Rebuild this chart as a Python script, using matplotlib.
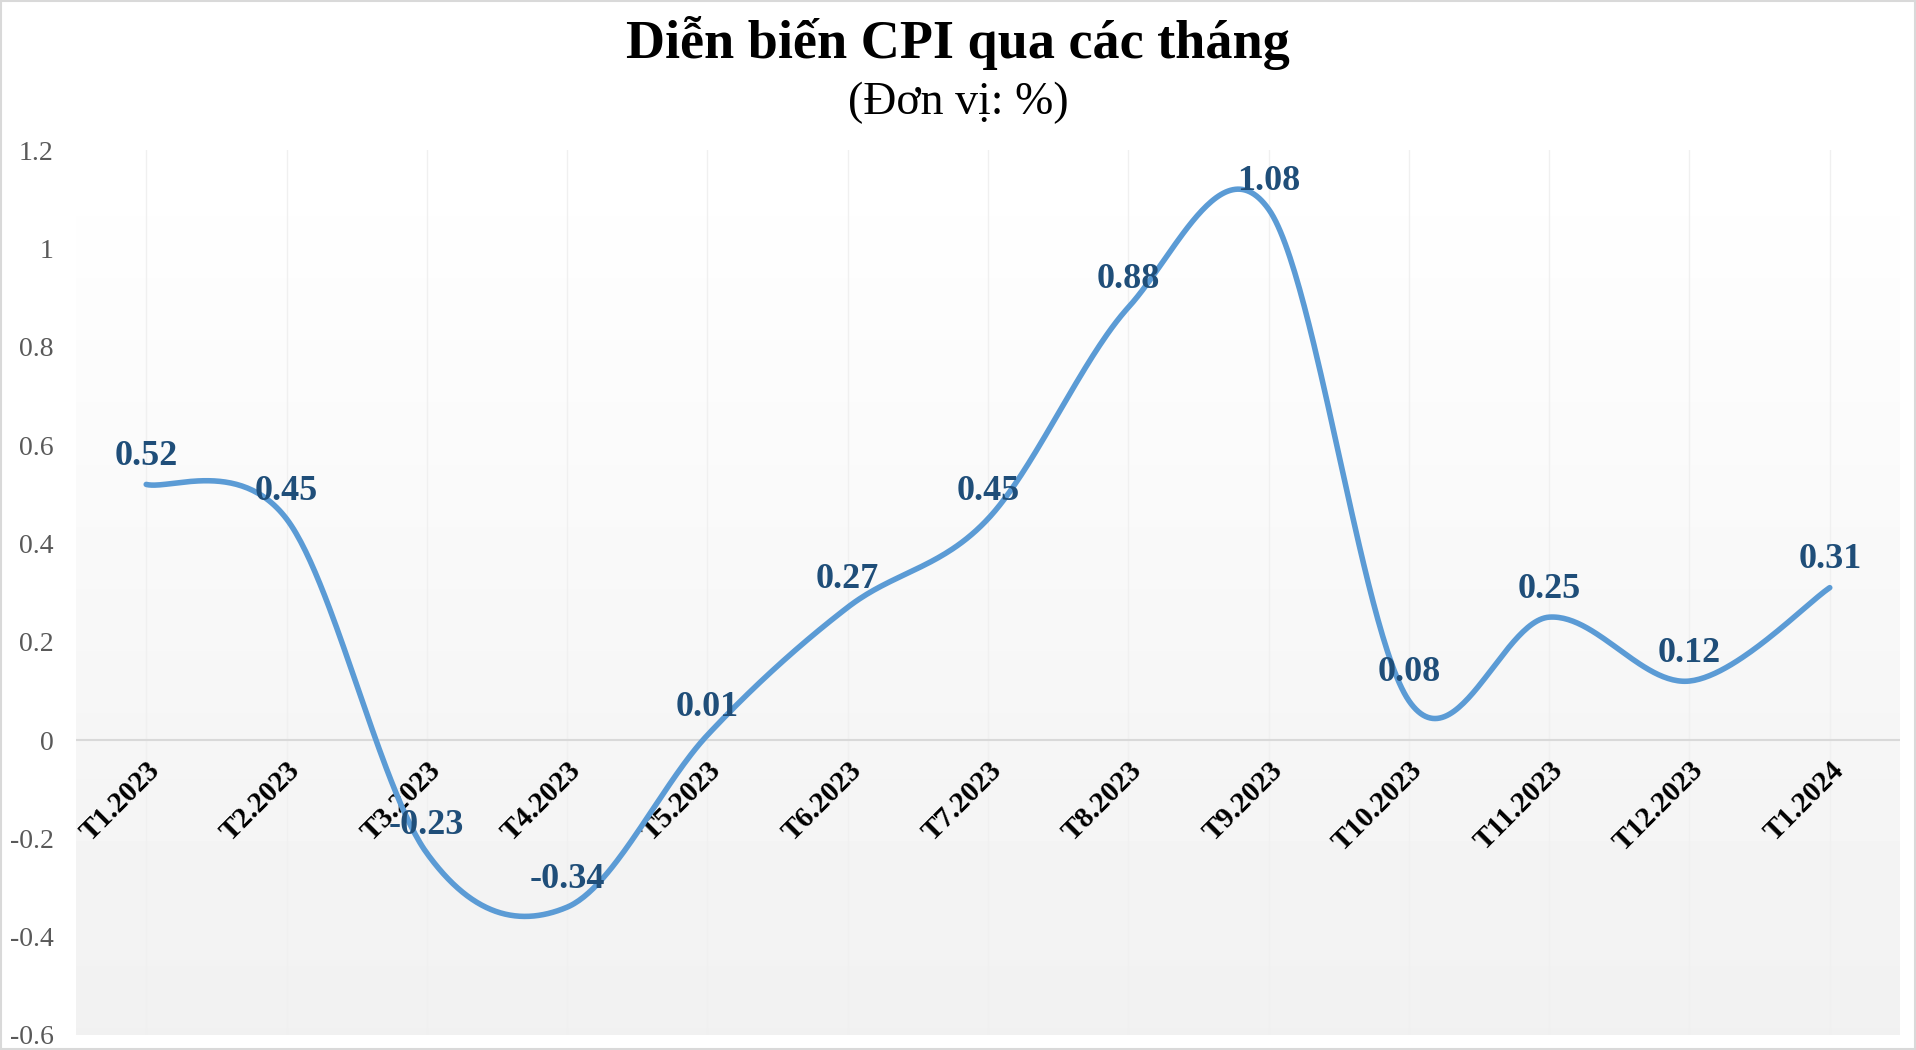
import matplotlib.pyplot as plt
import numpy as np
from matplotlib.patches import Rectangle

# du lieu CPI theo thang
months = ['T1.2023', 'T2.2023', 'T3.2023', 'T4.2023', 'T5.2023', 'T6.2023',
          'T7.2023', 'T8.2023', 'T9.2023', 'T10.2023', 'T11.2023', 'T12.2023',
          'T1.2024']
cpi = [0.52, 0.45, -0.23, -0.34, 0.01, 0.27, 0.45, 0.88, 1.08, 0.08, 0.25, 0.12, 0.31]
labels = ['0.52', '0.45', '-0.23', '-0.34', '0.01', '0.27', '0.45', '0.88', '1.08',
          '0.08', '0.25', '0.12', '0.31']
y_ticks = [-0.6, -0.4, -0.2, 0, 0.2, 0.4, 0.6, 0.8, 1, 1.2]
y_tick_labels = ['-0.6', '-0.4', '-0.2', '0', '0.2', '0.4', '0.6', '0.8', '1', '1.2']

plt.rcParams['font.family'] = ['Liberation Serif', 'DejaVu Serif']


def smooth_line(xs, ys, n=60):
    # duong cong kieu Excel (Catmull-Rom -> Bezier)
    px = np.concatenate([[xs[0]], xs, [xs[-1]]])
    py = np.concatenate([[ys[0]], ys, [ys[-1]]])
    out_x, out_y = [], []
    t = np.linspace(0, 1, n)
    for i in range(1, len(px) - 2):
        x0, y0 = px[i], py[i]
        x3, y3 = px[i + 1], py[i + 1]
        x1 = x0 + (px[i + 1] - px[i - 1]) / 6
        y1 = y0 + (py[i + 1] - py[i - 1]) / 6
        x2 = x3 - (px[i + 2] - px[i]) / 6
        y2 = y3 - (py[i + 2] - py[i]) / 6
        bx = (1 - t) ** 3 * x0 + 3 * (1 - t) ** 2 * t * x1 + 3 * (1 - t) * t ** 2 * x2 + t ** 3 * x3
        by = (1 - t) ** 3 * y0 + 3 * (1 - t) ** 2 * t * y1 + 3 * (1 - t) * t ** 2 * y2 + t ** 3 * y3
        out_x.extend(bx)
        out_y.extend(by)
    return np.array(out_x), np.array(out_y)


fig = plt.figure(figsize=(19.16, 10.5), dpi=100)
ax = fig.add_axes([0.0397, 0.0143, 0.9519, 0.8427])

x = np.arange(len(months))
ax.set_xlim(-0.5, len(months) - 0.5)
ax.set_ylim(-0.6, 1.2)

# nen gradient trang -> xam nhat
grad = np.linspace(1.0, 0.945, 256).reshape(-1, 1)
ax.imshow(grad, cmap='gray', vmin=0, vmax=1, aspect='auto',
          extent=[-0.5, len(months) - 0.5, -0.6, 1.2], zorder=0)

# luoi doc (rat nhat)
for xi in x:
    ax.axvline(xi, color='#f0f0f0', lw=1, zorder=1)
ax.axhline(0, color='#d9d9d9', lw=1.5, zorder=1)

sx, sy = smooth_line(x.astype(float), np.array(cpi))
ax.plot(sx, sy, color='#5B9BD5', lw=4, solid_capstyle='round', zorder=3)

for xi, yi, lab in zip(x, cpi, labels):
    ax.annotate(lab, (xi, yi), xytext=(0, 20), textcoords='offset points',
                ha='center', va='center', fontsize=26, fontweight='bold',
                color='#1F4E79', zorder=4)

# truc
for s in ax.spines.values():
    s.set_visible(False)
ax.spines['bottom'].set_position(('data', 0))
ax.set_xticks(x)
ax.set_xticklabels(months, rotation=45, ha='right', va='top',
                   rotation_mode='anchor', fontsize=21, fontweight='bold')
ax.tick_params(axis='x', length=0, pad=12)
ax.set_yticks(y_ticks)
ax.set_yticklabels(y_tick_labels, fontsize=20, color='#595959')
ax.tick_params(axis='y', length=0, pad=16)

fig.text(0.5, 0.959, 'Diễn biến CPI qua các tháng', ha='center', va='center',
         fontsize=39, fontweight='bold')
fig.text(0.5, 0.902, '(Đơn vị: %)', ha='center', va='center', fontsize=33)

# vien ngoai
fig.patches.append(Rectangle((0.0005, 0.001), 0.999, 0.998, transform=fig.transFigure,
                             fill=False, edgecolor='#d9d9d9', lw=1.5))

fig.savefig('out.png', dpi=100)
